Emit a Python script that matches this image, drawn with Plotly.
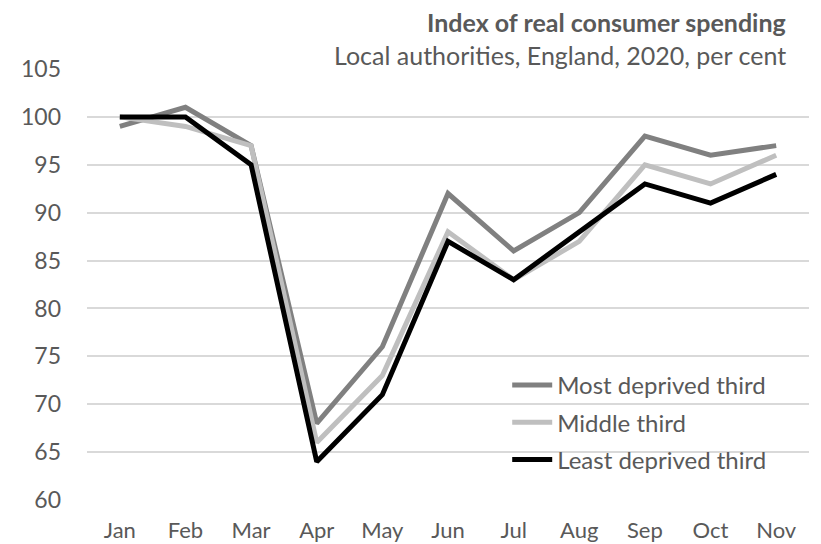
import plotly.graph_objects as go

months = ["Jan", "Feb", "Mar", "Apr", "May", "Jun", "Jul", "Aug", "Sep", "Oct", "Nov"]
most_deprived = [99, 101, 97, 68, 76, 92, 86, 90, 98, 96, 97]
middle_third = [100, 99, 97, 66, 73, 88, 83, 87, 95, 93, 96]
least_deprived = [100, 100, 95, 64, 71, 87, 83, 88, 93, 91, 94]
series_names = ["Most deprived third", "Middle third", "Least deprived third"]
series_colors = ["#808080", "#bfbfbf", "#000000"]
y_ticks = [60, 65, 70, 75, 80, 85, 90, 95, 100, 105]

FONT = "Lato"
TEXT = "#595959"

fig = go.Figure()
for i, (name, vals, col) in enumerate(zip(series_names, [most_deprived, middle_third, least_deprived], series_colors)):
    fig.add_trace(go.Scatter(x=months, y=vals, name=name, mode="lines",
                             line=dict(color=col, width=5), legendgroup=f"g{i}"))

fig.update_layout(
    width=821, height=544, autosize=False,
    margin=dict(l=87, r=12, t=69, b=44),
    paper_bgcolor="white", plot_bgcolor="white",
    font=dict(family=FONT, color=TEXT, size=22),
    showlegend=True,
    legend=dict(x=0.582, y=0.318, xanchor="left", yanchor="top",
                bgcolor="rgba(0,0,0,0)", font=dict(size=24, color=TEXT, family=FONT),
                tracegroupgap=3, itemwidth=40),
    xaxis=dict(type="category", range=[-0.5, 10.5], showgrid=False, zeroline=False, showline=False,
               ticks="", tickfont=dict(size=22, color=TEXT), ticklabelstandoff=15, automargin=False),
    yaxis=dict(range=[60, 105], tickvals=y_ticks, showgrid=True, gridcolor="#d9d9d9",
               gridwidth=2, zeroline=False, showline=False, ticks="",
               tickfont=dict(size=23, color=TEXT), ticklabelstandoff=25, automargin=False),
    shapes=[dict(type="rect", xref="paper", yref="paper", x0=0.493, x1=1.0, y0=0.046, y1=0.30,
                 fillcolor="white", line=dict(width=0), layer="below")],
    annotations=[
        dict(text="<b>Index of real consumer spending</b>", xref="paper", yref="paper",
             x=0.971, y=1.109, xanchor="right", yanchor="middle", showarrow=False,
             font=dict(size=25, color=TEXT, family=FONT)),
        dict(text="Local authorities, England, 2020, per cent", xref="paper", yref="paper",
             x=0.971, y=1.032, xanchor="right", yanchor="middle", showarrow=False,
             font=dict(size=25, color=TEXT, family=FONT)),
    ],
)

fig.write_html("out.html", config={"displayModeBar": False},
               post_script="document.body.style.margin='0';document.body.style.overflow='hidden';")
